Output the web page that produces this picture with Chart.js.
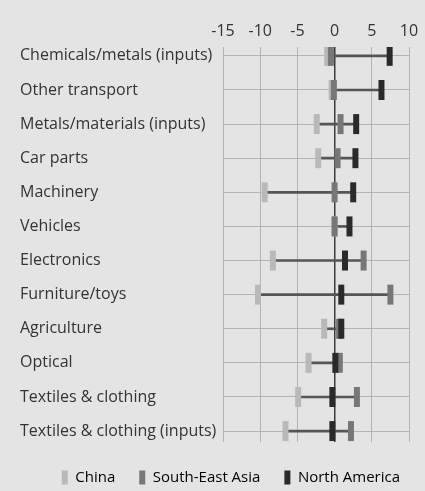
<!DOCTYPE html>
<html>
<head>
<meta charset="utf-8">
<script src="https://cdn.jsdelivr.net/npm/chart.js@4.4.1/dist/chart.umd.min.js"></script>
<style>
  html, body { margin: 0; padding: 0; background: #e4e4e4; }
  #wrap { width: 425px; height: 491px; }
</style>
</head>
<body>
<div id="wrap"><canvas id="myChart"></canvas></div>
<script>
// categories, top to bottom
const categories = [
  "Chemicals/metals (inputs)",
  "Other transport",
  "Metals/materials (inputs)",
  "Car parts",
  "Machinery",
  "Vehicles",
  "Electronics",
  "Furniture/toys",
  "Agriculture",
  "Optical",
  "Textiles & clothing",
  "Textiles & clothing (inputs)"
];
const china = [-1, -0.4, -2.4, -2.2, -9.4, 0, -8.3, -10.3, -1.4, -3.5, -4.9, -6.6];
const southEastAsia = [-0.5, -0.1, 0.8, 0.4, 0, 0, 3.9, 7.5, 0.6, 0.7, 3.0, 2.2];
const northAmerica = [7.4, 6.3, 2.9, 2.8, 2.5, 2.0, 1.4, 0.9, 0.9, 0.1, -0.3, -0.3];
const xTicks = [-15, -10, -5, 0, 5, 10];

const FONT = "'Open Sans', 'Noto Sans', sans-serif";
const TEXT = "#333333";
const GRID = "#b4b4b4";

// range line from lowest to highest of the three
const ranges = categories.map((c, i) => {
  const v = [china[i], southEastAsia[i], northAmerica[i]];
  return { x: [Math.min(...v), Math.max(...v)], y: i };
});

function points(arr) {
  return arr.map((v, i) => ({ x: v, y: i }));
}

function marker(label, arr, color, order) {
  return {
    type: "scatter",
    label: label,
    data: points(arr),
    pointStyle: "line",
    rotation: 90,
    radius: 10,
    hoverRadius: 10,
    borderWidth: 6,
    borderColor: color,
    backgroundColor: color,
    order: order,
  };
}

// nudge the legend row to where it sits in the original
const legendShift = {
  id: "legendShift",
  afterLayout(chart) {
    const lg = chart.legend;
    lg.left += 15;
    lg.right += 15;
    lg.top += 4;
    lg.bottom += 4;
  },
};

const config = {
  type: "bar",
  data: {
    datasets: [
      {
        label: "range",
        data: ranges,
        backgroundColor: "#555555",
        barThickness: 2,
        order: 10,
      },
      marker("China", china, "#b9b9b9", 3),
      marker("South-East Asia", southEastAsia, "#777777", 2),
      marker("North America", northAmerica, "#2a2a2a", 1),
    ],
  },
  plugins: [legendShift],
  options: {
    indexAxis: "y",
    responsive: true,
    maintainAspectRatio: false,
    animation: false,
    layout: { padding: { left: 20, right: 16, top: 0, bottom: 0 } },
    plugins: {
      tooltip: { enabled: false },
      legend: {
        position: "bottom",
        align: "end",
        labels: {
          font: { family: FONT, size: 15 },
          color: TEXT,
          boxWidth: 6,
          boxHeight: 14,
          padding: 24,
          filter: (item) => item.text !== "range",
          generateLabels: (chart) =>
            chart.data.datasets.map((ds, i) => ({
              text: ds.label,
              fillStyle: ds.borderColor || ds.backgroundColor,
              strokeStyle: ds.borderColor || ds.backgroundColor,
              lineWidth: 0,
              datasetIndex: i,
            })),
        },
      },
    },
    scales: {
      x: {
        type: "linear",
        position: "top",
        min: -15,
        max: 10,
        afterBuildTicks: (scale) => {
          scale.ticks = xTicks.map((v) => ({ value: v }));
        },
        afterFit: (scale) => {
          scale.height = 47;
        },
        border: { display: false },
        grid: {
          drawTicks: false,
          color: (ctx) => (ctx.tick && ctx.tick.value === 0 ? "#3a3a3a" : GRID),
          lineWidth: (ctx) => (ctx.tick && ctx.tick.value === 0 ? 1.5 : 1),
        },
        ticks: {
          padding: 6,
          color: TEXT,
          font: { family: FONT, size: 16 },
        },
      },
      y: {
        type: "linear",
        reverse: true,
        offset: false,
        min: -0.26,
        max: 11.32,
        afterBuildTicks: (scale) => {
          scale.ticks = categories.map((c, i) => ({ value: i }));
        },
        afterFit: (scale) => {
          scale.width = 203;
        },
        border: { display: false },
        grid: { offset: false, drawTicks: false, color: GRID, lineWidth: 1 },
        ticks: {
          crossAlign: "far",
          padding: 8,
          color: TEXT,
          font: { family: FONT, size: 16 },
          callback: (v) => categories[v],
        },
      },
    },
  },
};

const ctx = document.getElementById("myChart").getContext("2d");
new Chart(ctx, config);
</script>
</body>
</html>
